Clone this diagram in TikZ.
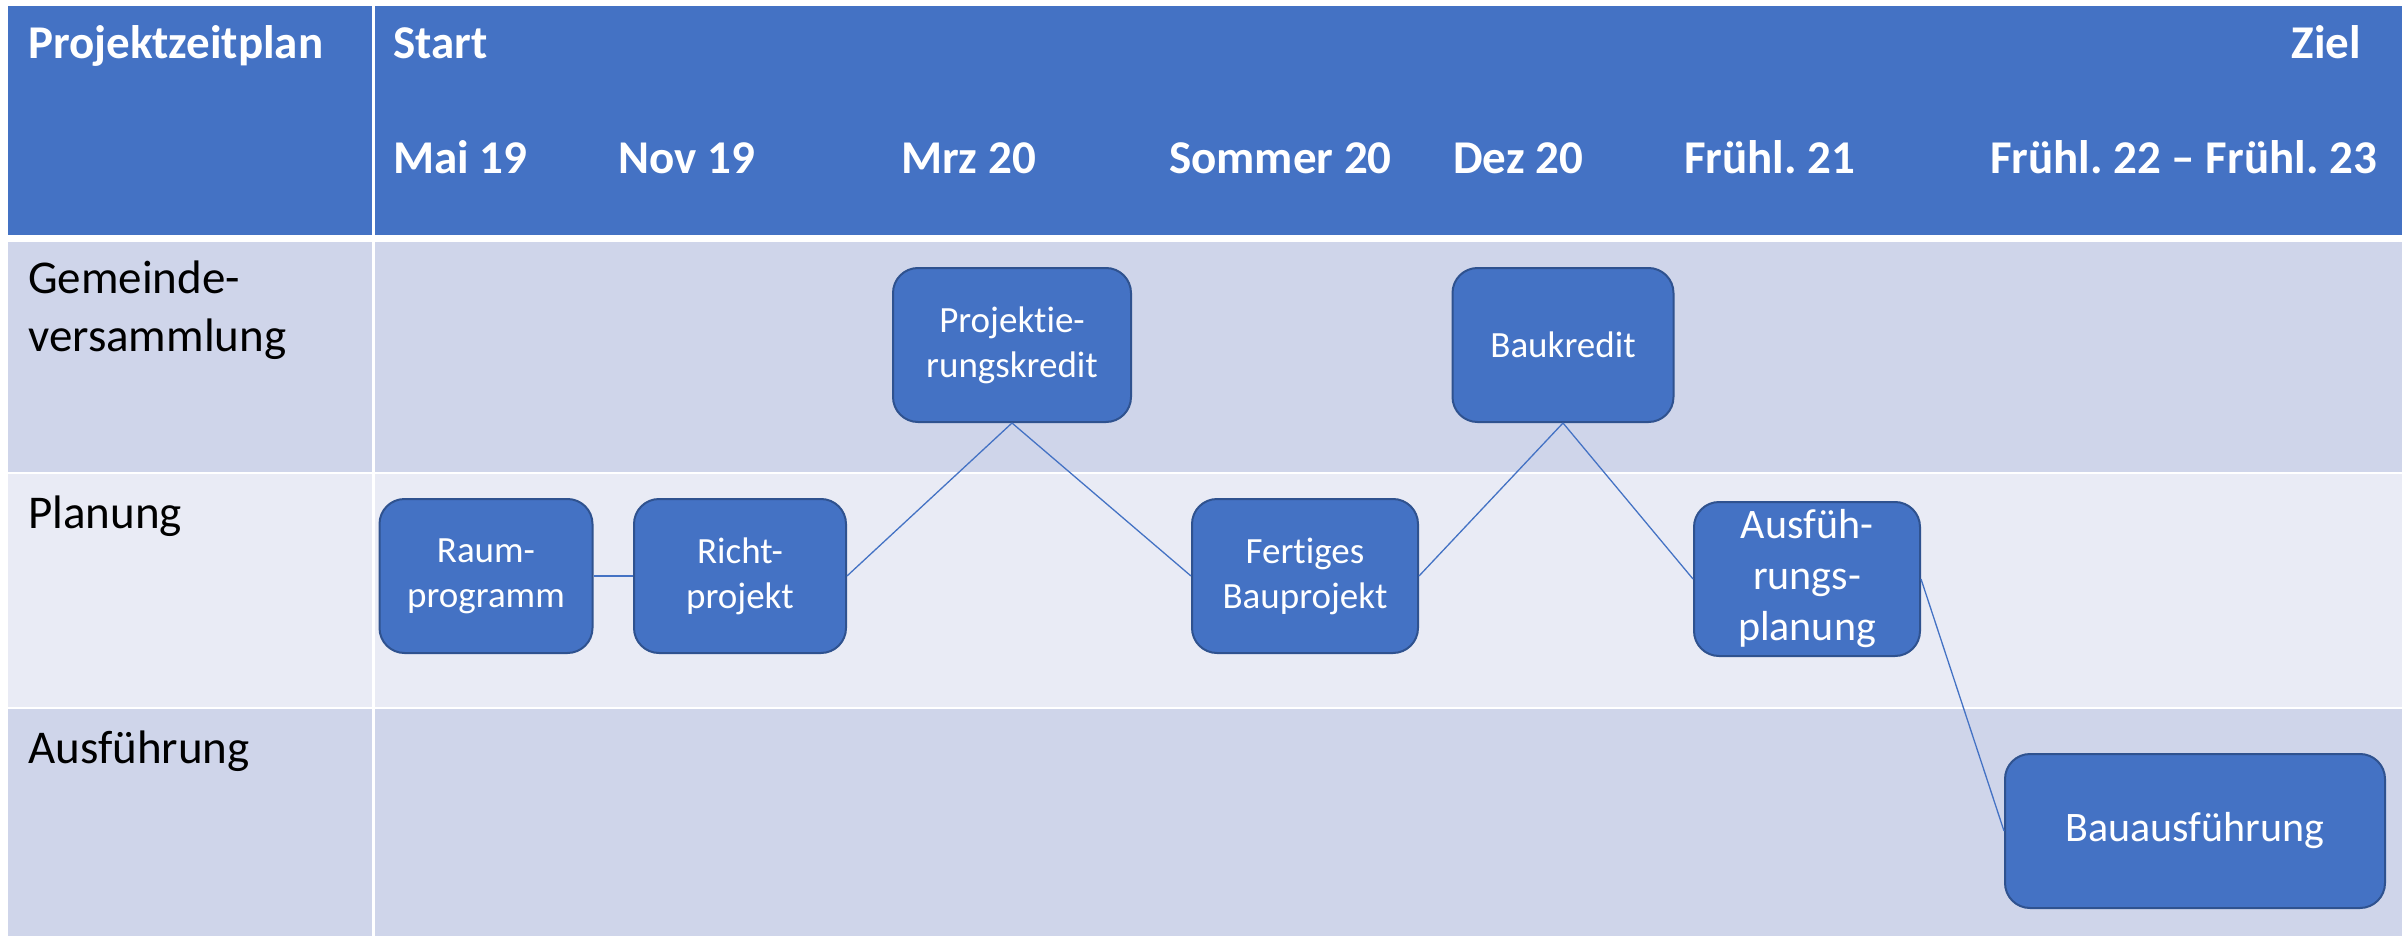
\documentclass[tikz,border=0pt]{standalone}
\usepackage{fontspec}
\setmainfont{Carlito}[Ligatures=NoCommon]
\frenchspacing
\usepackage{tikz}
\usetikzlibrary{positioning}
\definecolor{hdblue}{HTML}{4472C4}
\definecolor{boxedge}{HTML}{2F528F}
\definecolor{rowdark}{HTML}{CFD5EA}
\definecolor{rowlight}{HTML}{E9EBF5}

\tikzset{
  hdtext/.style={anchor=base west, inner sep=0pt, text=white, font=\fontsize{47}{57}\selectfont\bfseries},
  rowtext/.style={anchor=base west, inner sep=0pt, align=left, font=\fontsize{47}{58}\selectfont},
  milestone/.style={draw=boxedge, line width=2pt, fill=hdblue, rounded corners=25pt, text=white,
    align=center, inner sep=0pt, minimum height=154pt, font=\fontsize{37}{45}\selectfont},
  bigtext/.style={font=\fontsize{42}{51}\selectfont},
  link/.style={draw=hdblue, line width=1.3pt}
}

\begin{document}
\begin{tikzpicture}[x=1pt, y=-1pt]
      \useasboundingbox (0,0) rectangle (2402,936);
      %% table cells
      \fill[hdblue] (8,6) rectangle (372,235);
      \fill[hdblue] (375,6) rectangle (2402,235);
      \foreach \ya/\yb/\rowcol in {242/472/rowdark, 474/707/rowlight, 709/936/rowdark} {
        \fill[\rowcol] (8,\ya) rectangle (372,\yb);
        \fill[\rowcol] (375,\ya) rectangle (2402,\yb);
      }

      %% header
      \node (title) at (28,59) [hdtext] {Projektzeitplan};
      \node (start) at (393,59) [hdtext] {Start};
      \node (ziel) at (2361,59) [hdtext, anchor=base east] {Ziel};
      \foreach \x/\d [count=\i] in {393/Mai 19, 618/Nov 19, 901/Mrz 20, 1169/Sommer 20,
          1453/Dez 20, 1684/Frühl. 21, 1990/Frühl. 22 – Frühl. 23}
        \node (date\i) at (\x,174) [hdtext] {\d};

      %% rows
      \node (gv) at (28,351) [rowtext] {Gemeinde-\\versammlung};
      \node (pl) at (28,528) [rowtext] {Planung};
      \node (af) at (28,763) [rowtext] {Ausführung};

      %% milestones
      \node (raum) at (486,576) [milestone, minimum width=213pt] {Raum-\\programm};
      \node (richt) at (740,576) [milestone, minimum width=212pt] {Richt-\\projekt};
      \node (pkredit) at (1012,345) [milestone, minimum width=238pt] {Projektie-\\rungskredit};
      \node (fertig) at (1305,576) [milestone, minimum width=226pt] {Fertiges\\Bauprojekt};
      \node (bkredit) at (1563,345) [milestone, minimum width=221pt] {Baukredit};
      \node (ausplan) at (1807,579) [milestone, bigtext, minimum width=226pt] {Ausfüh-\\rungs-\\planung};
      \node (bau) at (2195,831) [milestone, bigtext, minimum width=380pt] {Bauausführung};

      \draw[link, line width=2pt] (raum) -- (richt);
      \draw[link] (richt.east) -- (pkredit.south);
      \draw[link] (pkredit.south) -- (fertig.west);
      \draw[link] (fertig.east) -- (bkredit.south);
      \draw[link] (bkredit.south) -- (ausplan.west);
      \draw[link] (ausplan.east) -- (bau.west);

\end{tikzpicture}
\end{document}
